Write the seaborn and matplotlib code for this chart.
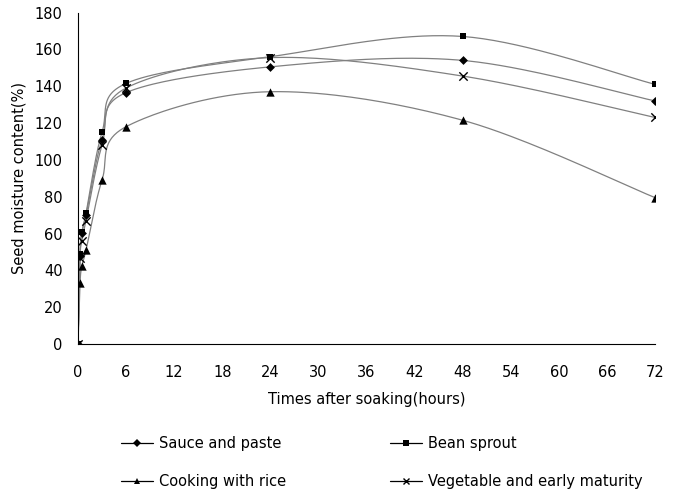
import numpy as np
import pandas as pd
import matplotlib
matplotlib.use("Agg")
import matplotlib.pyplot as plt
from matplotlib.lines import Line2D
import seaborn as sns

# ---- data ----
hours = [0, 0.25, 0.5, 1, 3, 6, 24, 48, 72]
sauce = [0, 48, 60.5, 70, 111, 136.5, 150.5, 154, 132]
bean = [0, 49, 61, 71, 115, 141.5, 156, 167, 141]
cooking = [0, 33, 42.5, 51, 89, 118, 137, 121.5, 79.5]
vegetable = [0, 46.5, 56, 67, 108, 139, 155.5, 145.5, 123]
series_names = ["Sauce and paste", "Bean sprout", "Cooking with rice",
                "Vegetable and early maturity"]
series_values = [sauce, bean, cooking, vegetable]
markers = ["D", "s", "^", "x"]
marker_sizes = [4.5, 5, 6, 6]
x_ticks = list(range(0, 73, 6))
y_ticks = list(range(0, 181, 20))


def smooth(xs, ys, n=40):
    """Excel-like smoothed curve (Catmull-Rom style cubic Bezier)."""
    P = np.column_stack([xs, ys]).astype(float)
    m = len(P)
    out = []
    for i in range(m - 1):
        p0 = P[i - 1] if i > 0 else P[i]
        p1 = P[i]
        p2 = P[i + 1]
        p3 = P[i + 2] if i + 2 < m else P[i + 1]
        c1 = p1 + (p2 - p0) / 6.0
        c2 = p2 - (p3 - p1) / 6.0
        t = np.linspace(0, 1, n)[:, None]
        seg = ((1 - t) ** 3) * p1 + 3 * ((1 - t) ** 2) * t * c1 + \
              3 * (1 - t) * t ** 2 * c2 + t ** 3 * p2
        out.append(seg if i == 0 else seg[1:])
    arr = np.vstack(out)
    return arr[:, 0], arr[:, 1]


curve_rows = []
point_rows = []
for name, vals in zip(series_names, series_values):
    sx, sy = smooth(hours, vals)
    for k, (a, b) in enumerate(zip(sx, sy)):
        curve_rows.append({"series": name, "order": k, "x": a, "y": b})
    for a, b in zip(hours, vals):
        point_rows.append({"series": name, "x": a, "y": b})
curves = pd.DataFrame(curve_rows)
points = pd.DataFrame(point_rows)

sns.set_theme(style="white")
plt.rcParams["font.family"] = ["DejaVu Sans"]
plt.rcParams["text.color"] = "black"
plt.rcParams["axes.labelcolor"] = "black"
plt.rcParams["xtick.color"] = "black"
plt.rcParams["ytick.color"] = "black"

fig = plt.figure(figsize=(6.74, 4.91), dpi=100)
ax = fig.add_axes([0.1157, 0.2994, 0.8561, 0.6751])

sns.lineplot(data=curves, x="x", y="y", hue="series", units="series",
             estimator=None, sort=False, palette=["#808080"] * 4,
             linewidth=0.9, legend=False, ax=ax)
for name, mk, ms in zip(series_names, markers, marker_sizes):
    sub = points[points["series"] == name]
    sns.scatterplot(data=sub, x="x", y="y", marker=mk, s=ms ** 2,
                    color="black", edgecolor="black",
                    linewidth=1.0 if mk == "x" else 0, legend=False,
                    ax=ax, zorder=5)

ax.set_xlim(0, 72)
ax.set_ylim(0, 180)
ax.set_xticks(x_ticks)
ax.set_yticks(y_ticks)
ax.set_xlabel("Times after soaking(hours)", fontsize=10.5, labelpad=9,
              color="black")
ax.set_ylabel("Seed moisture content(%)", fontsize=10.5, labelpad=6,
              color="black")
ax.tick_params(axis="both", direction="in", length=4, width=0.8,
               labelsize=10.5, colors="black", labelcolor="black")
ax.tick_params(axis="x", pad=15)
ax.tick_params(axis="y", pad=11)
for s in ["top", "right"]:
    ax.spines[s].set_visible(False)
for s in ["left", "bottom"]:
    ax.spines[s].set_color("black")
    ax.spines[s].set_linewidth(0.8)
ax.set_facecolor("white")

handles = [Line2D([0], [0], color="black", linewidth=0.9, marker=mk,
                  markersize=ms * 0.8, markeredgewidth=1.0 if mk == "x" else 0,
                  markerfacecolor="black", markeredgecolor="black")
           for mk, ms in zip(markers, marker_sizes)]
leg_kw = dict(frameon=False, fontsize=10.5, handlelength=2.2,
              handletextpad=0.4, labelspacing=1.55, loc="center left",
              labelcolor="black")
leg1 = fig.legend([handles[0], handles[2]], [series_names[0], series_names[2]],
                  bbox_to_anchor=(0.1605, 0.058), **leg_kw)
leg2 = fig.legend([handles[1], handles[3]], [series_names[1], series_names[3]],
                  bbox_to_anchor=(0.5596, 0.058), **leg_kw)

fig.savefig("out.png", dpi=100, facecolor="white")
